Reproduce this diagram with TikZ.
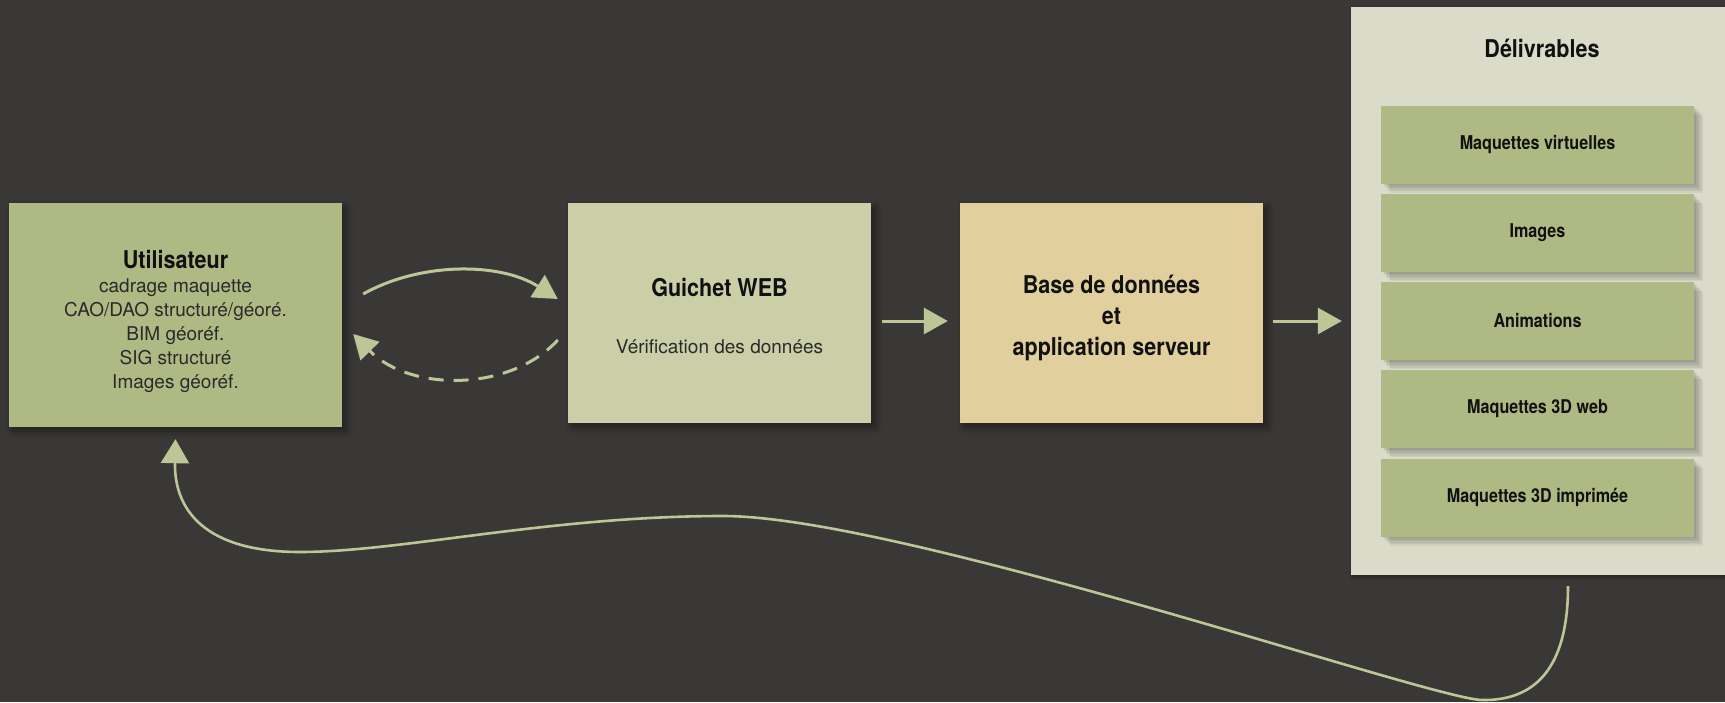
\documentclass[tikz,border=0pt]{standalone}
\usepackage{fontspec}
\setmainfont{TeX Gyre Heros}
\newfontfamily\condfont{TeX Gyre Heros}[FakeStretch=0.88]
\newfontfamily\subfont{TeX Gyre Heros}[FakeStretch=0.85]
\usetikzlibrary{arrows.meta,shadows.blur,calc}
\definecolor{bg}{HTML}{3A3836}
\definecolor{olive}{HTML}{AFB984}
\definecolor{guichet}{HTML}{CBCFA7}
\definecolor{base}{HTML}{E1D09E}
\definecolor{panel}{HTML}{DADCC9}
\definecolor{arc}{HTML}{BCC697}
\definecolor{txt}{HTML}{111111}
\definecolor{txtb}{HTML}{2A2A2A}
\begin{document}
\begin{tikzpicture}[x=1pt,y=-1pt,
  boxshadow/.style={blur shadow={shadow xshift=4pt,shadow yshift=-4pt,shadow blur radius=7pt,shadow blur steps=10,shadow opacity=45}},
  bigbox/.style={fill=#1,draw=none,inner sep=0pt,minimum width=303pt,minimum height=220pt,boxshadow},
  sh/.style={preaction={fill=black,fill opacity=0.05,transform canvas={xshift=#1,yshift=-#1}}},
  subbox/.style={fill=olive,draw=none,inner sep=0pt,minimum width=313pt,minimum height=78pt,text=txt,
     font=\subfont\bfseries\fontsize{19}{23}\selectfont,
     sh=1.5pt,sh=3pt,sh=4.5pt,sh=6pt,sh=7.5pt,sh=9pt},
  ttl/.style={text=txt,align=center,inner sep=0pt,font=\condfont\bfseries\fontsize{24.5}{31}\selectfont},
  bodytxt/.style={text=txtb,align=center,inner sep=0pt,font=\fontsize{19}{24}\selectfont},
  arr/.style={draw=arc,line width=3pt,-{Triangle[length=24pt,width=26pt]}},
  dasharr/.style={arr,dash pattern=on 15pt off 10pt},
  fbarr/.style={draw=arc,line width=2.6pt,-{Triangle[length=24pt,width=28pt]}}
]
\fill[bg] (0,0) rectangle (1725,702);
\useasboundingbox (0,0) rectangle (1725,702);

% panel
\node[fill=panel,draw=none,inner sep=0pt,minimum width=382pt,minimum height=568pt,
  blur shadow={shadow xshift=2pt,shadow yshift=-2pt,shadow blur radius=4pt,shadow blur steps=6,shadow opacity=40}]
  (d) at (1542,291) {};
\node[ttl] (dt) at (1542,48) {Délivrables};
\node[subbox] (d1) at (1537.5,144.5) {Maquettes virtuelles};
\node[subbox] (d2) at (1537.5,233) {Images};
\node[subbox] (d3) at (1537.5,321) {Animations};
\node[subbox] (d4) at (1537.5,409) {Maquettes 3D web};
\node[subbox] (d5) at (1537.5,497.5) {Maquettes 3D imprimée};

% main boxes
\node[bigbox=olive,minimum width=333pt,minimum height=224pt] (u) at (175.5,315) {};
\node[ttl] (ut) at (175.5,260) {Utilisateur};
\node[bodytxt] (ub) at (175.5,336) {cadrage maquette\\CAO/DAO structuré/géoré.\\BIM géoréf.\\SIG structuré\\Images géoréf.};

\node[bigbox=guichet] (g) at (719.5,313) {};
\node[ttl] (gt) at (719.5,288) {Guichet WEB};
\node[bodytxt] (gb) at (719.5,347) {Vérification des données};

\node[bigbox=base] (b) at (1111.5,313) {};
\node[ttl] (bt) at (1111.5,318) {Base de données\\et\\application serveur};

% connectors
\coordinate (c1) at ($(u.east)+(21,-21)$);
\coordinate (c2) at ($(g.west)+(-10,-14)$);
\coordinate (c3) at ($(g.west)+(-10,27)$);
\coordinate (c4) at ($(u.east)+(11,19)$);
\draw[arr] (c1) .. controls (420,262) and (500,262) .. (c2);
\draw[dasharr] (c3) .. controls (510,392) and (410,392) .. (c4);

\draw[arr,shorten <=11pt,shorten >=12pt] ([yshift=-8pt]g.east) -- ([yshift=-8pt]b.west);
\draw[arr,shorten <=10pt,shorten >=9pt] ([yshift=-8pt]b.east) -- ([yshift=-8pt]b.east -| d.west);

\draw[fbarr] ([xshift=26pt,yshift=-11pt]d.south)
  .. controls (1568,668) and (1535,701) .. (1482,700)
  .. controls (1430,699) and (900,516) .. (723,516)
  .. controls (550,516) and (400,552) .. (300,552)
  .. controls (205,552) and (174,510) .. ([yshift=-12pt]u.south);
\end{tikzpicture}
\end{document}
